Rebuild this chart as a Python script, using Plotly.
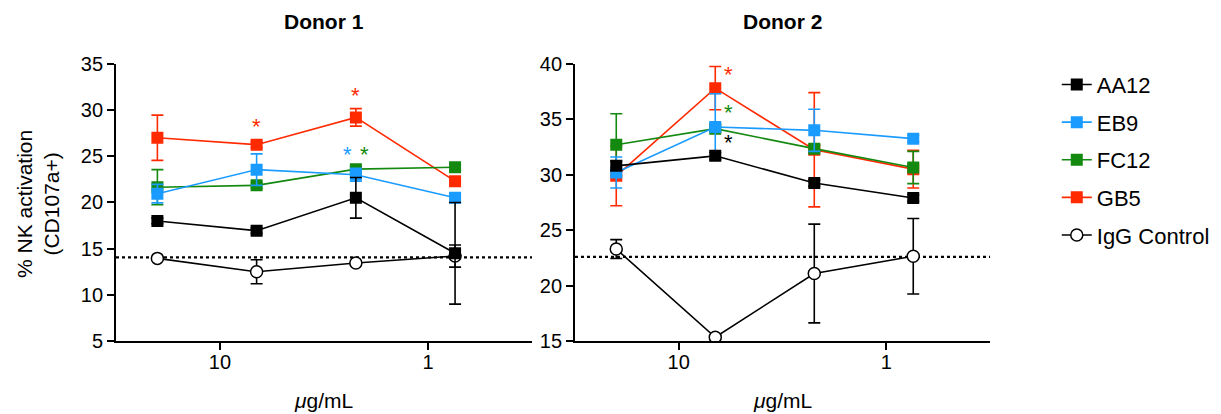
import math
import plotly.graph_objects as go

# ---- data ----
doses = [20, 6.667, 2.222, 0.741]
series = ["AA12", "EB9", "FC12", "GB5", "IgG Control"]
colors = {"AA12": "#000000", "EB9": "#1a9bff", "FC12": "#13890f", "GB5": "#ff2a00", "IgG Control": "#000000"}

d1_AA12 = [18.0, 16.95, 20.5, 14.5]
d1_AA12_err = [0.3, 0.3, 2.2, 5.5]
d1_EB9 = [20.95, 23.55, 23.0, 20.5]
d1_EB9_err = [1.0, 1.7, 0.7, 0.5]
d1_FC12 = [21.65, 21.85, 23.6, 23.8]
d1_FC12_err = [1.9, 0.3, 0.3, 0.3]
d1_GB5 = [27.0, 26.25, 29.2, 22.3]
d1_GB5_err = [2.45, 0.3, 0.95, 0.3]
d1_IgG = [13.95, 12.5, 13.45, 14.2]
d1_IgG_err = [0.2, 1.3, 0.2, 1.2]

d2_AA12 = [30.8, 31.7, 29.25, 27.9]
d2_AA12_err = [0.4, 0.3, 0.3, 0.3]
d2_EB9 = [30.2, 34.3, 34.0, 33.25]
d2_EB9_err = [1.4, 3.0, 1.9, 0.3]
d2_FC12 = [32.7, 34.15, 32.35, 30.65]
d2_FC12_err = [2.8, 0.3, 0.3, 1.45]
d2_GB5 = [29.9, 37.8, 32.25, 30.5]
d2_GB5_err = [2.7, 1.95, 5.15, 1.7]
d2_IgG = [23.3, 15.35, 21.1, 22.65]
d2_IgG_err = [0.85, 0.2, 4.45, 3.4]

baseline = [14.05, 22.6]

# significance asterisks: (panel, dose, y, series colour key, pixel x shift)
stars = [
    (1, 6.667, 28.4, "GB5", 0),
    (1, 2.222, 31.8, "GB5", 0),
    (1, 2.222, 25.35, "EB9", -8),
    (1, 2.222, 25.35, "FC12", 9),
    (2, 6.667, 39.2, "GB5", 13),
    (2, 6.667, 35.8, "FC12", 13),
    (2, 6.667, 33.1, "AA12", 13),
]

donor1 = {"AA12": (d1_AA12, d1_AA12_err), "EB9": (d1_EB9, d1_EB9_err), "FC12": (d1_FC12, d1_FC12_err),
          "GB5": (d1_GB5, d1_GB5_err), "IgG Control": (d1_IgG, d1_IgG_err)}
donor2 = {"AA12": (d2_AA12, d2_AA12_err), "EB9": (d2_EB9, d2_EB9_err), "FC12": (d2_FC12, d2_FC12_err),
          "GB5": (d2_GB5, d2_GB5_err), "IgG Control": (d2_IgG, d2_IgG_err)}

FONT = "Liberation Sans, Arial, Helvetica, sans-serif"

fig = go.Figure()
draw_order = ["IgG Control", "GB5", "FC12", "EB9", "AA12"]
for panel, data, xa, ya in [(1, donor1, "x", "y"), (2, donor2, "x2", "y2")]:
    for name in draw_order:
        vals, errs = data[name]
        c = colors[name]
        if name == "IgG Control":
            marker = dict(symbol="circle", size=12, color="white", line=dict(color="black", width=1.5))
        else:
            marker = dict(symbol="square", size=12, color=c, line=dict(width=0))
        fig.add_trace(go.Scatter(
            x=doses, y=vals, name=name, mode="lines+markers",
            line=dict(color=c, width=1.6), marker=marker,
            error_y=dict(type="data", array=errs, visible=True, color=c, thickness=1.6, width=6),
            xaxis=xa, yaxis=ya, legendgroup=name, showlegend=(panel == 1),
            legendrank=series.index(name) + 1,
        ))

axis_common = dict(showline=True, linecolor="black", linewidth=1.8, ticks="outside",
                   ticklen=7, tickwidth=1.8, tickcolor="black", showgrid=False, zeroline=False,
                   automargin=False, tickfont=dict(family=FONT, size=20, color="black"))

fig.update_layout(
    width=1221, height=414,
    margin=dict(l=0, r=0, t=0, b=0, autoexpand=False),
    plot_bgcolor="white", paper_bgcolor="white",
    font=dict(family=FONT, color="black"),
    xaxis=dict(domain=[0.0950, 0.4357], type="log", range=[1.5, -0.5], tickvals=[10, 1],
               ticktext=["10", "1"], anchor="y", ticklabelstandoff=-5, **axis_common),
    yaxis=dict(domain=[0.176, 0.846], range=[5, 35], tickvals=[5, 10, 15, 20, 25, 30, 35],
               anchor="x", **axis_common),
    xaxis2=dict(domain=[0.4709, 0.8108], type="log", range=[1.5, -0.5], tickvals=[10, 1],
                ticktext=["10", "1"], anchor="y2", ticklabelstandoff=-5, **axis_common),
    yaxis2=dict(domain=[0.176, 0.846], range=[15, 40], tickvals=[15, 20, 25, 30, 35, 40],
                anchor="x2", **axis_common),
    legend=dict(x=0.8655, xanchor="left", y=0.846, yanchor="top", tracegroupgap=6,
                font=dict(family=FONT, size=22, color="black"), bgcolor="rgba(0,0,0,0)"),
    showlegend=True,
)

shapes = []
for i, (xr, yr) in enumerate([("x domain", "y"), ("x2 domain", "y2")]):
    shapes.append(dict(type="line", xref=xr, yref=yr, x0=0, x1=1, y0=baseline[i], y1=baseline[i],
                       line=dict(color="black", width=2.2, dash="dot"), layer="below"))
fig.update_layout(shapes=shapes)

ann = []
for title, xr in [("<b>Donor 1</b>", "x domain"), ("<b>Donor 2</b>", "x2 domain")]:
    ann.append(dict(text=title, xref=xr, x=0.5, yref="paper", y=1 - 21 / 414, yanchor="middle",
                    showarrow=False, font=dict(family=FONT, size=21, color="black")))
for xr in ["x domain", "x2 domain"]:
    ann.append(dict(text="<i>μ</i>g/mL", xref=xr, x=0.5, yref="paper", y=1 - 400 / 414, yanchor="middle",
                    showarrow=False, font=dict(family=FONT, size=21, color="black")))
ann.append(dict(text="% NK activation<br>(CD107a+)", xref="paper", x=38 / 1221, yref="paper",
                y=1 - 204 / 414, xanchor="center", yanchor="middle", textangle=-90, showarrow=False,
                font=dict(family=FONT, size=21, color="black")))
for panel, d, yv, key, xs in stars:
    ann.append(dict(text="*", xref="x" if panel == 1 else "x2", yref="y" if panel == 1 else "y2",
                    x=math.log10(d), y=yv, xshift=xs, yshift=-2, showarrow=False,
                    font=dict(family=FONT, size=22, color=colors[key])))
fig.update_layout(annotations=ann)

fig.write_html("out.html", config={"displayModeBar": False},
               post_script="document.body.style.margin='0';")
